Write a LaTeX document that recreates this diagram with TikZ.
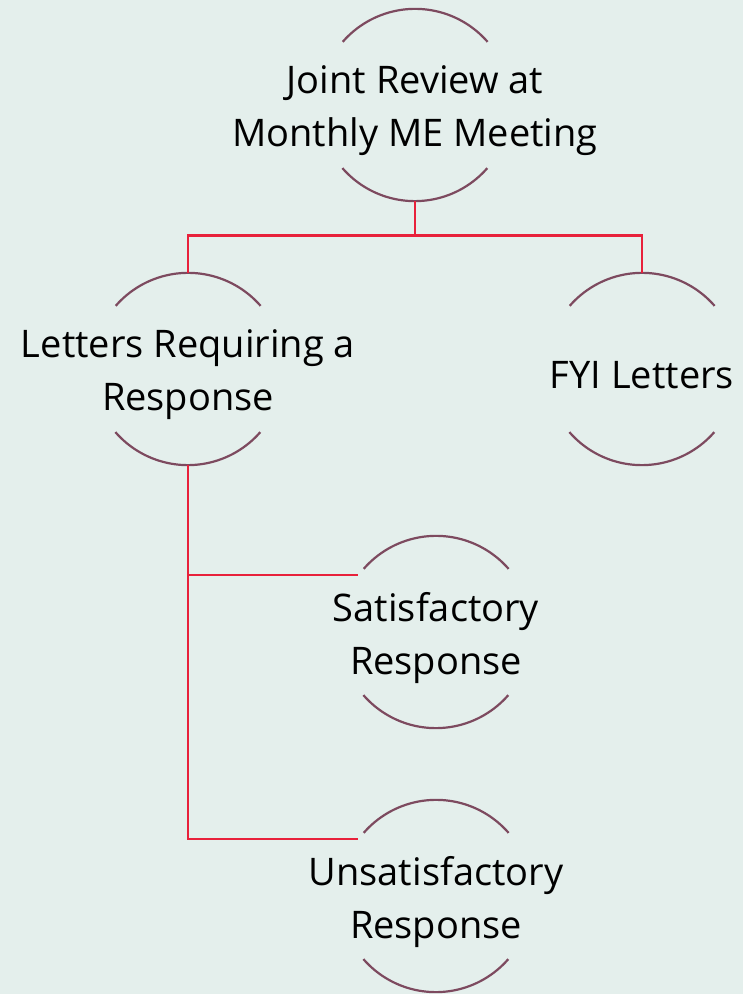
\documentclass[tikz,border=0pt]{standalone}
\usepackage{fontspec}
\setmainfont{Open Sans}
\definecolor{paper}{HTML}{E4EFEC}
\definecolor{plum}{HTML}{7D4A5F}
\definecolor{crimson}{HTML}{E8213B}

\begin{document}
\begin{tikzpicture}[x=1pt, y=1pt,
    ring/.style={circle, minimum size=192pt, inner sep=0pt},
    arcline/.style={draw=plum, line width=2.2pt},
    label/.style={align=center, yshift=-6pt, font=\fontsize{38}{53}\selectfont},
    link/.style={draw=crimson, line width=2.8pt},
    sublink/.style={draw=crimson, line width=2pt}]
  \fill[paper] (0,0) rectangle (743,994);
  \useasboundingbox (0,0) rectangle (743,994);

  \node[ring] (review)  at (415,889) {};
  \node[ring] (letters) at (188,625) {};
  \node[ring] (fyi)     at (642,625) {};
  \node[ring] (sat)     at (436,362) {};
  \node[ring] (unsat)   at (436,98)  {};

  \foreach \n in {review,letters,fyi,sat,unsat} {
    \draw[arcline] (\n.41) arc[start angle=41, end angle=139, radius=96pt];
    \draw[arcline] (\n.221) arc[start angle=221, end angle=319, radius=96pt];
  }

  \node[label] (review-txt)  at (review)  {Joint Review at\\Monthly ME Meeting};
  \node[label] (letters-txt) at (letters) {Letters Requiring a\\Response};
  \node[label] (fyi-txt)     at (fyi)     {FYI Letters};
  \node[label] (sat-txt)     at (sat)     {Satisfactory\\Response};
  \node[label] (unsat-txt)   at (unsat)   {Unsatisfactory\\Response};

  % connectors
  \coordinate (split) at ([yshift=-34pt]review.south);
  \coordinate (branch) at (letters.south |- sat.144);
  \draw[link] (review.south) -- (split) -| (letters.north);
  \draw[link] (split) -| (fyi.north);
  \draw[sublink] (letters.south) |- (unsat.144);
  \draw[sublink] (branch) -- (sat.144);
\end{tikzpicture}
\end{document}
